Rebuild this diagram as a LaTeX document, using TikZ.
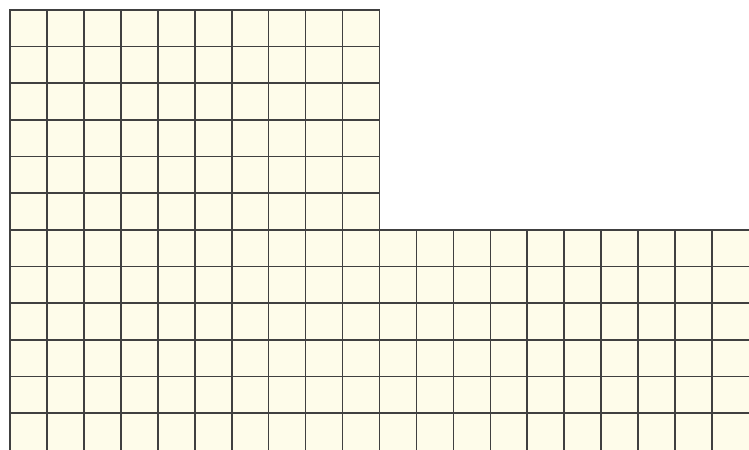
\documentclass[tikz,border=0pt]{standalone}
\definecolor{paper}{RGB}{254,252,234}
\begin{document}
\begin{tikzpicture}[x=0.739cm, y=0.7334cm,
    gridline/.style={draw=black!75, line width=0.95pt, line cap=rect}]
    \useasboundingbox (-0.27,0.27) rectangle (20,-12);
    \fill [paper] (0,0) -- (10,0) -- (10,-6) -- (20,-6) -- (20,-12) -- (0,-12) -- cycle;
    % tall part on the left
    \foreach \i in {0,...,10}
      \draw [gridline] (\i,0) -- (\i,-12);
    \foreach \j in {0,...,5}
      \draw [gridline] (0,-\j) -- (10,-\j);
    % low part on the right
    \foreach \i in {11,...,19}
      \draw [gridline] (\i,-6) -- (\i,-12);
    \foreach \j in {6,...,11}
      \draw [gridline] (0,-\j) -- (20,-\j);
    %\draw [gray] (0,-12) grid (20,0);
  \end{tikzpicture}
\end{document}
